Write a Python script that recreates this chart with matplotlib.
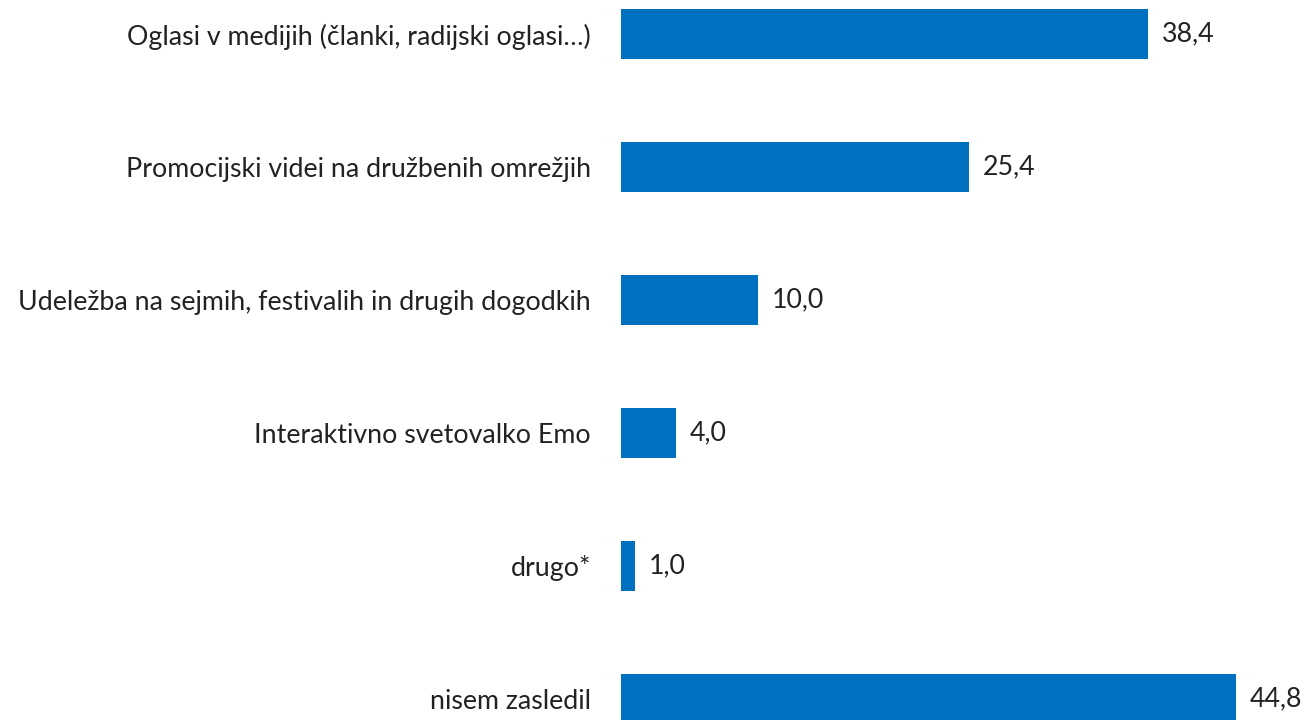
import matplotlib
matplotlib.use("Agg")
import matplotlib.pyplot as plt

categories = [
    "Oglasi v medijih (članki, radijski oglasi…)",
    "Promocijski videi na družbenih omrežjih",
    "Udeležba na sejmih, festivalih in drugih dogodkih",
    "Interaktivno svetovalko Emo",
    "drugo*",
    "nisem zasledil",
]
values = [38.4, 25.4, 10.0, 4.0, 1.0, 44.8]
value_labels = ["38,4", "25,4", "10,0", "4,0", "1,0", "44,8"]

plt.rcParams['font.family'] = ['Lato', 'DejaVu Sans']

fig = plt.figure(figsize=(13.07, 7.2), dpi=100)
ax = fig.add_axes([0.4751, 0, 0.5249, 1])

pos = list(range(len(categories)))
ax.barh(pos, values, height=0.376, color="#0070C0")

ax.set_xlim(0, 50)
ax.set_ylim(5.158, -0.2556)

# vrednosti desno od stolpcev
for p, v, lab in zip(pos, values, value_labels):
    ax.text(v + 1.0, p, lab, va="center", ha="left", fontsize=19.3, color="#222222")

ax.set_yticks(pos)
ax.set_yticklabels(categories, fontsize=19.3, color="#222222")
ax.tick_params(axis="y", length=0, pad=21.6)
ax.set_xticks([])
for s in ax.spines.values():
    s.set_visible(False)

fig.savefig("out.png", dpi=100)
